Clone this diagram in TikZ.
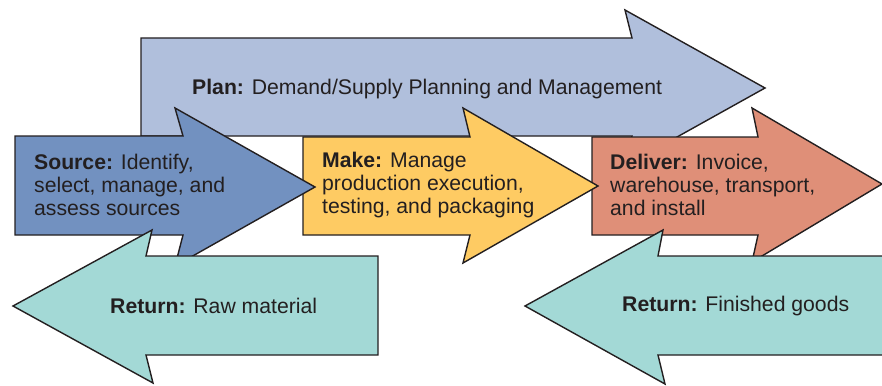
\documentclass[tikz,border=0pt]{standalone}
\usepackage{fontspec}
\setmainfont{Liberation Sans}

\definecolor{plancol}{HTML}{B0BFDC}
\definecolor{sourcecol}{HTML}{7291C0}
\definecolor{makecol}{HTML}{FECB63}
\definecolor{delivcol}{HTML}{DF8F78}
\definecolor{returncol}{HTML}{A3D9D6}
\definecolor{edgecol}{HTML}{231F20}

\begin{document}
\begin{tikzpicture}[
        x=1pt,y=-1pt,
        blockarrow/.style={draw=edgecol,line width=1.4pt,line join=miter},
        steptext/.style={anchor=west,inner sep=0pt,align=left,text=edgecol,
            font=\fontsize{21.2}{23.2}\selectfont},
    ]
\useasboundingbox (0,0) rectangle (882,385);
\clip (0,0) rectangle (882,385);

% plan, across the top
\draw[blockarrow,fill=plancol] (141,38) -- (632,38) -- (625,10) -- (765,88)
    -- (625,166) -- (632,136) -- (141,136) -- cycle;
\node[steptext] (plan) at (192,89) {\textbf{Plan:} Demand/Supply Planning and Management};

% the three forward steps, drawn right to left so each tip lies on top
\draw[blockarrow,fill=delivcol] (592,137) -- (758,137) -- (752,108) -- (882,184)
    -- (752,262) -- (758,235) -- (592,235) -- cycle;
\node[steptext] (deliver) at (610,185) {\textbf{Deliver:} Invoice,\\warehouse, transport,\\and install};

\draw[blockarrow,fill=makecol] (303,137) -- (470,137) -- (463,108) -- (598,186)
    -- (463,263) -- (470,235) -- (303,235) -- cycle;
\node[steptext] (make) at (322,185) {\textbf{Make:} Manage\\production execution,\\testing, and packaging};

\draw[blockarrow,fill=sourcecol] (15,136) -- (183,136) -- (175,108) -- (315,187)
    -- (175,266) -- (183,235) -- (15,235) -- cycle;
\node[steptext] (source) at (34,185) {\textbf{Source:} Identify,\\select, manage, and\\assess sources};

% returns, pointing back
\draw[blockarrow,fill=returncol] (378,256) -- (146,256) -- (152,230) -- (13,306)
    -- (153,383) -- (146,355) -- (378,355) -- cycle;
\node[steptext] (retraw) at (110,306) {\textbf{Return:} Raw material};

\draw[blockarrow,fill=returncol] (892,256) -- (658,256) -- (663,230) -- (525,306)
    -- (665,384) -- (658,355) -- (892,355) -- cycle;
\node[steptext] (retgoods) at (622,306) {\textbf{Return:} Finished goods};

\end{tikzpicture}
\end{document}
